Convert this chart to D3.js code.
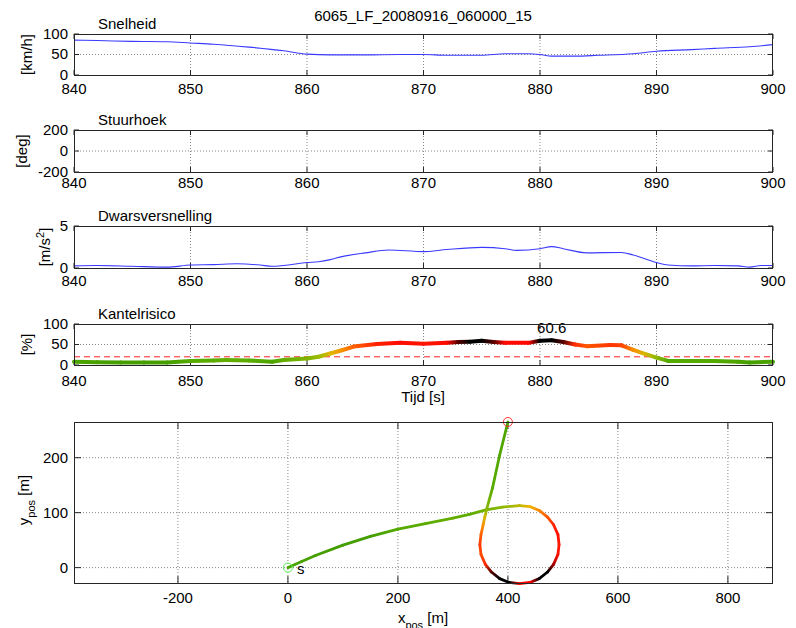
<!DOCTYPE html>
<html><head><meta charset="utf-8">
<script src="https://cdn.jsdelivr.net/npm/d3@7"></script>
<style>
body{margin:0;background:#fff;}
text{font-family:"Liberation Sans",Arial,Helvetica,sans-serif;fill:#000;}
</style></head>
<body><svg id="chart" width="796" height="628"></svg>
<script>
// ---------- DATA ----------
const chartTitle = "6065_LF_20080916_060000_15";
const timeTicks = [840, 850, 860, 870, 880, 890, 900];

const speedT = [840, 842, 845, 848, 850, 852, 855, 858, 860, 862, 865, 868, 870, 872, 875, 877, 879, 880, 881, 883, 885, 888, 890, 893, 895, 898, 900];
const speedV = [85, 84, 82, 81, 78, 75, 68, 59, 51, 49, 49, 50, 50, 48, 48, 52, 52, 50, 46, 46, 48, 52, 58, 62, 65, 69, 74];
const speedTicks = [0, 50, 100];

const steerT = [];
const steerV = [];
const steerTicks = [-200, 0, 200];

const latT = [840, 842, 845, 848, 850, 852, 854, 856, 857, 858, 860, 861, 862, 863, 865, 867, 870, 872, 875, 877, 878, 880, 881, 882, 884, 887, 888, 890, 891, 893, 895, 897, 898, 899, 900];
const latV = [0.25, 0.3, 0.2, 0.1, 0.35, 0.4, 0.5, 0.35, 0.2, 0.3, 0.65, 0.75, 1.0, 1.35, 1.8, 2.15, 1.95, 2.2, 2.45, 2.3, 2.1, 2.3, 2.55, 2.3, 1.8, 1.85, 1.55, 0.65, 0.35, 0.25, 0.3, 0.25, 0.1, 0.3, 0.3];
const latTicks = [0, 5];

const riskT = [840, 842, 844, 846, 848, 850, 852, 853, 855, 857, 858, 860, 861, 862, 863, 864, 866, 868, 870, 872, 873, 874, 875, 876, 877, 879, 880, 881, 882, 883, 884, 886, 887, 888, 889, 890, 891, 893, 895, 897, 898, 900];
const riskV = [8, 7, 6, 6, 6, 10, 11, 12, 11, 8, 12, 16, 20, 28, 36, 45, 51, 54, 52, 54, 56, 57, 59, 56, 54, 54, 59, 60.6, 56, 50, 46, 49, 48, 37, 27, 18, 10, 10, 10, 8, 6, 8];
const riskTicks = [0, 50, 100];
const riskThreshold = 20;
const riskPeak = {t: 881, v: 60.6, label: "60.6"};

const pathX = [0, 25, 50, 100, 150, 200, 250, 300, 330, 360, 390, 421, 440, 457, 472, 483, 491, 493, 491, 483, 472, 457, 440, 421, 402, 385, 370, 359, 351, 349, 351, 355, 358, 361, 372, 385, 400];
const pathY = [0, 11, 22, 41, 57, 70, 80, 90, 97, 105, 110, 113, 111, 104, 92, 78, 60, 42, 24, 6, -8, -20, -27, -29, -27, -20, -8, 6, 24, 42, 60, 78, 92, 105, 145, 205, 265];
const pathRisk = [8, 7, 6, 6, 6, 10, 11, 12, 11, 14, 18, 24, 30, 38, 46, 51, 53, 52, 53, 55.5, 57, 58, 55, 54, 57, 60.6, 56, 50, 47, 49, 45, 36, 27, 18, 10, 9, 8];
const posXTicks = [-200, 0, 200, 400, 600, 800];
const posYTicks = [0, 100, 200];

// ---------- LAYOUT ----------
const L = 74, R = 773;
const svg = d3.select("#chart");
const FS = 15;
const riskColor = d3.scaleLinear()
  .domain([0, 10, 20, 30, 45, 52, 55, 56.5])
  .range(["#2a8c00", "#55aa00", "#9abb00", "#f0b400", "#ff6000", "#ff1800", "#ff0000", "#000000"])
  .clamp(true);

const defs = svg.append("defs");
let gradId = 0;

function axesFrame(x, y, xTicks, yTicks, opts) {
  const g = svg.append("g");
  const [y0, y1] = y.range();
  const top = Math.min(y0, y1), bot = Math.max(y0, y1);
  const tl = opts.tickLen || 5;
  g.selectAll(".gx").data(xTicks.filter(d => x(d) > L + 1 && x(d) < R - 1)).join("line")
    .attr("x1", d => x(d)).attr("x2", d => x(d)).attr("y1", top).attr("y2", bot)
    .attr("stroke", "#888").attr("stroke-width", 1).attr("stroke-dasharray", "1,2");
  g.selectAll(".gy").data((opts.gridY || []).filter(d => y(d) > top + 1 && y(d) < bot - 1)).join("line")
    .attr("x1", L).attr("x2", R).attr("y1", d => y(d)).attr("y2", d => y(d))
    .attr("stroke", "#888").attr("stroke-width", 1).attr("stroke-dasharray", "1,2");
  xTicks.forEach(d => {
    g.append("line").attr("x1", x(d)).attr("x2", x(d)).attr("y1", bot).attr("y2", bot - tl).attr("stroke", "#262626");
    g.append("line").attr("x1", x(d)).attr("x2", x(d)).attr("y1", top).attr("y2", top + tl).attr("stroke", "#262626");
  });
  yTicks.forEach(d => {
    g.append("line").attr("x1", L).attr("x2", L + tl).attr("y1", y(d)).attr("y2", y(d)).attr("stroke", "#262626");
    g.append("line").attr("x1", R).attr("x2", R - tl).attr("y1", y(d)).attr("y2", y(d)).attr("stroke", "#262626");
  });
  g.selectAll(".tx").data(xTicks).join("text")
    .attr("x", d => x(d)).attr("y", bot + (opts.xLabOff || 18)).attr("text-anchor", "middle")
    .attr("font-size", FS).text(d => d);
  g.selectAll(".ty").data(yTicks).join("text")
    .attr("x", L - 6).attr("y", d => y(d)).attr("dy", "0.33em").attr("text-anchor", "end")
    .attr("font-size", FS).text(d => d);
  return g;
}
function boxFrame(top, bot) {
  svg.append("rect").attr("x", L + 0.5).attr("y", top + 0.5).attr("width", R - L - 1).attr("height", bot - top)
    .attr("fill", "none").attr("stroke", "#262626").attr("stroke-width", 1);
}

function timePanel(top, bot, domain, ticks, gridY, title, ylab, ylabX, xLabOff) {
  const x = d3.scaleLinear().domain([840, 900]).range([L, R]);
  const y = d3.scaleLinear().domain(domain).range([bot, top]);
  axesFrame(x, y, timeTicks, ticks, {gridY, xLabOff});
  svg.append("text").attr("x", 98).attr("y", top - 5).attr("font-size", FS).text(title);
  const yl = svg.append("text").attr("transform", `translate(${ylabX},${(top + bot) / 2}) rotate(-90)`)
    .attr("text-anchor", "middle").attr("font-size", FS);
  ylab(yl);
  return {x, y};
}

// Panel 1: Snelheid
const p1 = timePanel(34, 75, [0, 100], speedTicks, [50], "Snelheid", t => t.text("[km/h]"), 32, 19);
svg.append("path").datum(speedT.map((t, i) => [t, speedV[i]]))
  .attr("d", d3.line().curve(d3.curveMonotoneX).x(d => p1.x(d[0])).y(d => p1.y(d[1])))
  .attr("fill", "none").attr("stroke", "#3a3aff").attr("stroke-width", 1.1);
boxFrame(34, 75);

// Panel 2: Stuurhoek
const p2 = timePanel(130, 172, [-200, 200], steerTicks, [0], "Stuurhoek", t => t.text("[deg]"), 27, 16);
svg.append("path").datum(steerT.map((t, i) => [t, steerV[i]]))
  .attr("d", d3.line().x(d => p2.x(d[0])).y(d => p2.y(d[1])))
  .attr("fill", "none").attr("stroke", "#3a3aff");
boxFrame(130, 172);

// Panel 3: Dwarsversnelling
const p3 = timePanel(226, 268, [0, 5], latTicks, [], "Dwarsversnelling", t => {
  t.append("tspan").text("[m/s");
  t.append("tspan").attr("baseline-shift", "super").attr("font-size", 11).text("2");
  t.append("tspan").text("]");
}, 50, 18);
svg.append("path").datum(latT.map((t, i) => [t, latV[i]]))
  .attr("d", d3.line().curve(d3.curveMonotoneX).x(d => p3.x(d[0])).y(d => p3.y(d[1])))
  .attr("fill", "none").attr("stroke", "#3a3aff").attr("stroke-width", 1.1);
boxFrame(226, 268);

// Panel 4: Kantelrisico
const p4 = timePanel(324, 365, [0, 100], riskTicks, [50], "Kantelrisico", t => t.text("[%]"), 32, 21);
svg.append("line").attr("x1", L).attr("x2", R).attr("y1", p4.y(riskThreshold)).attr("y2", p4.y(riskThreshold))
  .attr("stroke", "#ff2020").attr("stroke-width", 1).attr("stroke-dasharray", "6,4");

function gradSegments(g, pts, vals, width) {
  for (let i = 0; i < pts.length - 1; i++) {
    const [ax, ay] = pts[i], [bx, by] = pts[i + 1];
    const id = "gr" + (gradId++);
    const lg = defs.append("linearGradient").attr("id", id).attr("gradientUnits", "userSpaceOnUse")
      .attr("x1", ax).attr("y1", ay).attr("x2", bx).attr("y2", by);
    lg.append("stop").attr("offset", "0%").attr("stop-color", riskColor(vals[i]));
    lg.append("stop").attr("offset", "100%").attr("stop-color", riskColor(vals[i + 1]));
    g.append("line").attr("x1", ax).attr("y1", ay).attr("x2", bx).attr("y2", by)
      .attr("stroke", `url(#${id})`).attr("stroke-width", width).attr("stroke-linecap", "round");
  }
}
const riskG = svg.append("g");
gradSegments(riskG, riskT.map((t, i) => [p4.x(t), p4.y(riskV[i])]), riskV, 4);
svg.append("text").attr("x", p4.x(riskPeak.t)).attr("y", p4.y(riskPeak.v) - 7)
  .attr("text-anchor", "middle").attr("font-size", FS).text(riskPeak.label);
boxFrame(324, 365);
svg.append("text").attr("x", 423).attr("y", 402).attr("text-anchor", "middle").attr("font-size", FS).text("Tijd [s]");

// Panel 5: position
const top5 = 422, bot5 = 583;
const px = d3.scaleLinear().domain([-389, 882]).range([L, R]);
const py = d3.scaleLinear().domain([-28, 265]).range([bot5, top5]);
axesFrame(px, py, posXTicks, posYTicks, {gridY: posYTicks, xLabOff: 20, tickLen: 7});
const posG = svg.append("g");
gradSegments(posG, pathX.map((x, i) => [px(x), py(pathY[i])]), pathRisk, 2.8);
svg.append("circle").attr("cx", px(pathX[0])).attr("cy", py(pathY[0])).attr("r", 4.5)
  .attr("fill", "none").attr("stroke", "#55ee55").attr("stroke-width", 1);
svg.append("text").attr("x", px(pathX[0]) + 9).attr("y", py(pathY[0]) + 6).attr("font-size", FS).text("s");
const last = pathX.length - 1;
svg.append("circle").attr("cx", px(pathX[last])).attr("cy", py(pathY[last])).attr("r", 4.5)
  .attr("fill", "none").attr("stroke", "#ff3030").attr("stroke-width", 1);
boxFrame(top5, bot5);
const yl5 = svg.append("text").attr("transform", `translate(29,500) rotate(-90)`).attr("text-anchor", "middle").attr("font-size", FS);
yl5.append("tspan").text("y");
yl5.append("tspan").attr("baseline-shift", "sub").attr("font-size", 11).text("pos");
yl5.append("tspan").attr("baseline-shift", "baseline").text(" [m]");
const xl5 = svg.append("text").attr("x", 423).attr("y", 623).attr("text-anchor", "middle").attr("font-size", FS);
xl5.append("tspan").text("x");
xl5.append("tspan").attr("baseline-shift", "sub").attr("font-size", 11).text("pos");
xl5.append("tspan").attr("baseline-shift", "baseline").text(" [m]");

svg.append("text").attr("x", 423).attr("y", 21).attr("text-anchor", "middle").attr("font-size", FS).text(chartTitle);
</script></body></html>
